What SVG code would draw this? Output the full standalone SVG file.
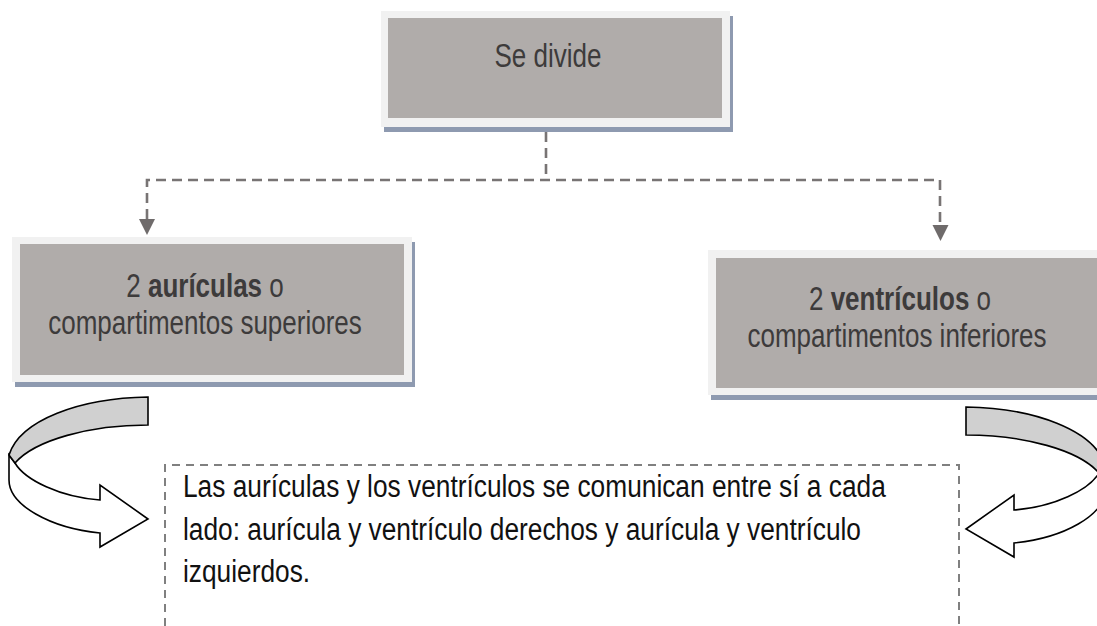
<svg xmlns="http://www.w3.org/2000/svg" width="1097" height="626" viewBox="0 0 1097 626">
<defs>
<style>
.shadow{fill:#8e9ab0}
.frame{fill:#f1f1f1}
.inner{fill:#b0acaa}
.btxt{font-family:"Liberation Sans",Arial,sans-serif;font-size:26px;fill:#3d3b3b;text-anchor:middle}
.body{font-family:"Liberation Sans",Arial,sans-serif;font-size:26.3px;fill:#111}
.conn{fill:none;stroke:#787474;stroke-width:2.6;stroke-dasharray:10 6}
.ah{fill:#6f6b6b}
.dbox{fill:none;stroke:#808080;stroke-width:2;stroke-dasharray:8 6}
.band{fill:#d0d0d0;stroke:#000;stroke-width:1.6;stroke-linejoin:miter}
.front{fill:#fff;stroke:#000;stroke-width:1.6;stroke-linejoin:miter}
</style>
<g id="curvedArrow">
<path class="front" d="M9,455 L9,480 C9,505 50,528 100,533 L100,547 L148,519 L100,485 L100,500 C60,497 25,480 15,463 Z"/>
<path class="band" d="M148,397 C80,398 20,420 9,455 L15,463 C35,440 90,425 148,425 Z"/>
</g>
</defs>

<g id="connectors">
<path class="conn" d="M546,132 V180"/>
<path class="conn" d="M147,219 V180 H940 V225"/>
<polygon class="ah" points="139,219 155,219 147,235"/>
<polygon class="ah" points="932.5,225 948.5,225 940.5,241"/>
</g>

<g id="node-se-divide">
<rect class="shadow" x="384" y="16" width="349" height="116"/>
<rect class="frame" x="381" y="11" width="349" height="116"/>
<rect class="inner" x="388" y="18" width="334" height="100"/>
<text class="btxt" transform="translate(548,67) scale(1,1.25)">Se divide</text>
</g>

<g id="node-auriculas">
<rect class="shadow" x="15" y="242" width="400" height="145"/>
<rect class="frame" x="12" y="237" width="400" height="145"/>
<rect class="inner" x="20" y="244" width="384" height="131"/>
<text class="btxt" transform="translate(205,297) scale(1,1.25)">2 <tspan font-weight="bold">aurículas</tspan> o</text>
<text class="btxt" transform="translate(205,334) scale(1,1.25)">compartimentos superiores</text>
</g>

<g id="node-ventriculos">
<rect class="shadow" x="711" y="255" width="400" height="145"/>
<rect class="frame" x="708" y="250" width="400" height="145"/>
<rect class="inner" x="716" y="258" width="400" height="130"/>
<text class="btxt" transform="translate(900,310) scale(1,1.25)">2 <tspan font-weight="bold">ventrículos</tspan> o</text>
<text class="btxt" transform="translate(897,347) scale(1,1.25)">compartimentos inferiores</text>
</g>

<g id="arrow-left">
<use href="#curvedArrow"/>
</g>
<g id="arrow-right">
<use href="#curvedArrow" transform="translate(1114,10) scale(-1,1)"/>
</g>

<g id="node-texto">
<path class="dbox" d="M165,626 V465 H959 V626"/>
<text class="body" transform="translate(183,497) scale(1,1.18)">Las aurículas y los ventrículos se comunican entre sí a cada</text>
<text class="body" transform="translate(183,540) scale(1,1.18)">lado: aurícula y ventrículo derechos y aurícula y ventrículo</text>
<text class="body" transform="translate(183,582) scale(1,1.18)">izquierdos.</text>
</g>
</svg>
